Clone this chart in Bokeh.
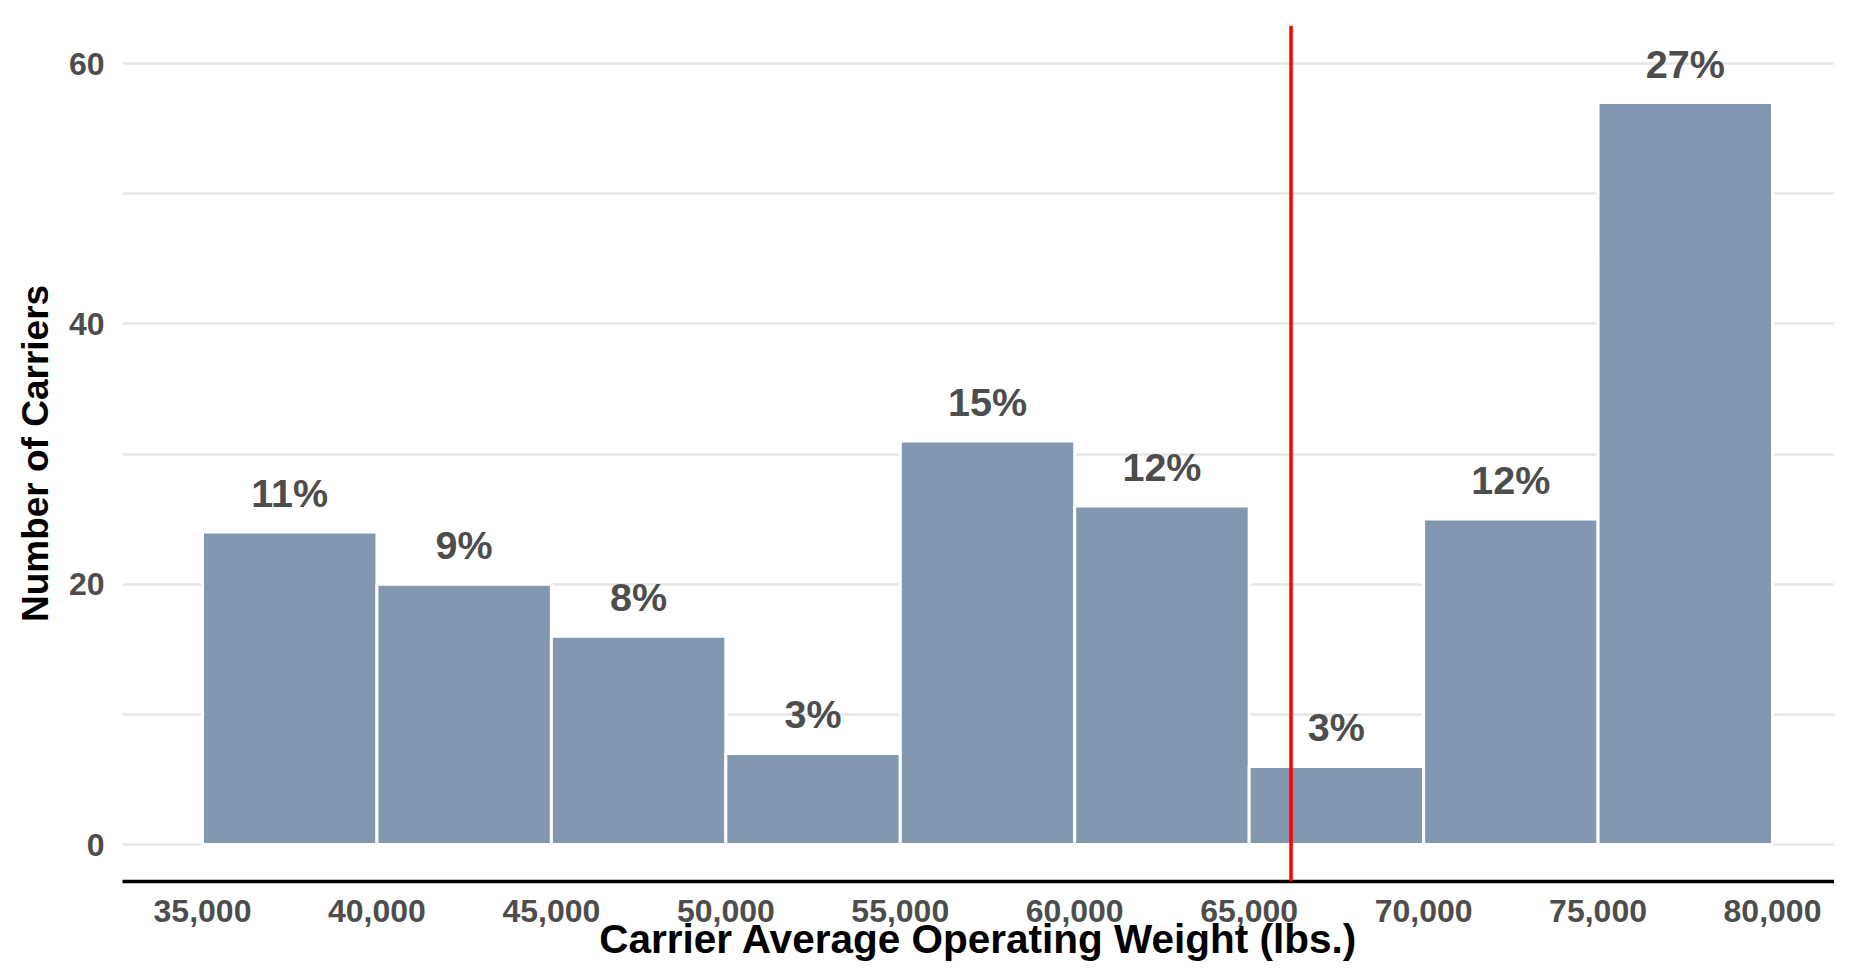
from bokeh.plotting import figure
from bokeh.models import Span, FixedTicker, NumeralTickFormatter, ColumnDataSource
from bokeh.core.properties import value
from bokeh.embed import file_html
from bokeh.resources import INLINE

# ---- data ----
bin_starts = [35000, 40000, 45000, 50000, 55000, 60000, 65000, 70000, 75000]
bin_ends = [40000, 45000, 50000, 55000, 60000, 65000, 70000, 75000, 80000]
counts = [24, 20, 16, 7, 31, 26, 6, 25, 57]
pct_labels = ["11%", "9%", "8%", "3%", "15%", "12%", "3%", "12%", "27%"]
threshold = 66200
x_ticks = [35000, 40000, 45000, 50000, 55000, 60000, 65000, 70000, 75000, 80000]
y_ticks = [0, 20, 40, 60]
y_minor = [10, 30, 50]
x_title = "Carrier Average Operating Weight (lbs.)"
y_title = "Number of Carriers"

FONT = "Liberation Sans"
LABEL_OFFSET = 3

src = ColumnDataSource(dict(
    left=bin_starts, right=bin_ends, top=counts,
    bottom=[0] * len(counts),
    xc=[(a + b) / 2 for a, b in zip(bin_starts, bin_ends)],
    ly=[c + LABEL_OFFSET for c in counts],
    lab=pct_labels,
))

p = figure(width=1834, height=964, output_backend="svg", toolbar_location=None,
           x_range=(32707, 81777), y_range=(-2.84, 62.92))
p.min_border_left = 122
p.min_border_right = 0
p.min_border_top = 25
p.min_border_bottom = 82
p.outline_line_color = None
p.background_fill_color = "white"
p.border_fill_color = "white"

p.quad(left="left", right="right", top="top", bottom="bottom", source=src,
       fill_color="#8497b0", line_color="white", line_width=3)

p.text(x="xc", y="ly", text="lab", source=src, text_align="center",
       text_baseline="middle", text_font=value(FONT), text_font_style="bold",
       text_font_size="39.5px", text_color="#4d4d4d")

p.add_layout(Span(location=threshold, dimension="height", line_color="#ff0000",
                  line_width=3.5))

# grid
p.xgrid.grid_line_color = None
p.ygrid.ticker = FixedTicker(ticks=y_ticks, minor_ticks=y_minor)
p.ygrid.grid_line_color = "#e6e6e6"
p.ygrid.grid_line_width = 2.5
p.ygrid.minor_grid_line_color = "#e6e6e6"
p.ygrid.minor_grid_line_width = 2.5

# x axis
xa = p.xaxis[0]
xa.ticker = FixedTicker(ticks=x_ticks)
xa.formatter = NumeralTickFormatter(format="0,0")
xa.axis_line_color = "black"
xa.axis_line_width = 3.5
xa.major_tick_line_color = None
xa.minor_tick_line_color = None
xa.major_tick_out = 0
xa.major_tick_in = 0
xa.major_label_standoff = 18
xa.major_label_text_font = FONT
xa.major_label_text_font_style = "bold"
xa.major_label_text_font_size = "32px"
xa.major_label_text_color = "#4d4d4d"
xa.axis_label = x_title
xa.axis_label_text_font = FONT
xa.axis_label_text_font_style = "bold"
xa.axis_label_text_font_size = "40.5px"
xa.axis_label_text_color = "black"
xa.axis_label_standoff = -9

# y axis
ya = p.yaxis[0]
ya.ticker = FixedTicker(ticks=y_ticks)
ya.axis_line_color = None
ya.major_tick_line_color = None
ya.minor_tick_line_color = None
ya.major_tick_out = 0
ya.major_tick_in = 0
ya.major_label_standoff = 18
ya.major_label_text_font = FONT
ya.major_label_text_font_style = "bold"
ya.major_label_text_font_size = "32px"
ya.major_label_text_color = "#4d4d4d"
ya.axis_label = y_title
ya.axis_label_text_font = FONT
ya.axis_label_text_font_style = "bold"
ya.axis_label_text_font_size = "37px"
ya.axis_label_text_color = "black"
ya.axis_label_standoff = 10

open("out.html", "w").write(file_html(p, INLINE))
